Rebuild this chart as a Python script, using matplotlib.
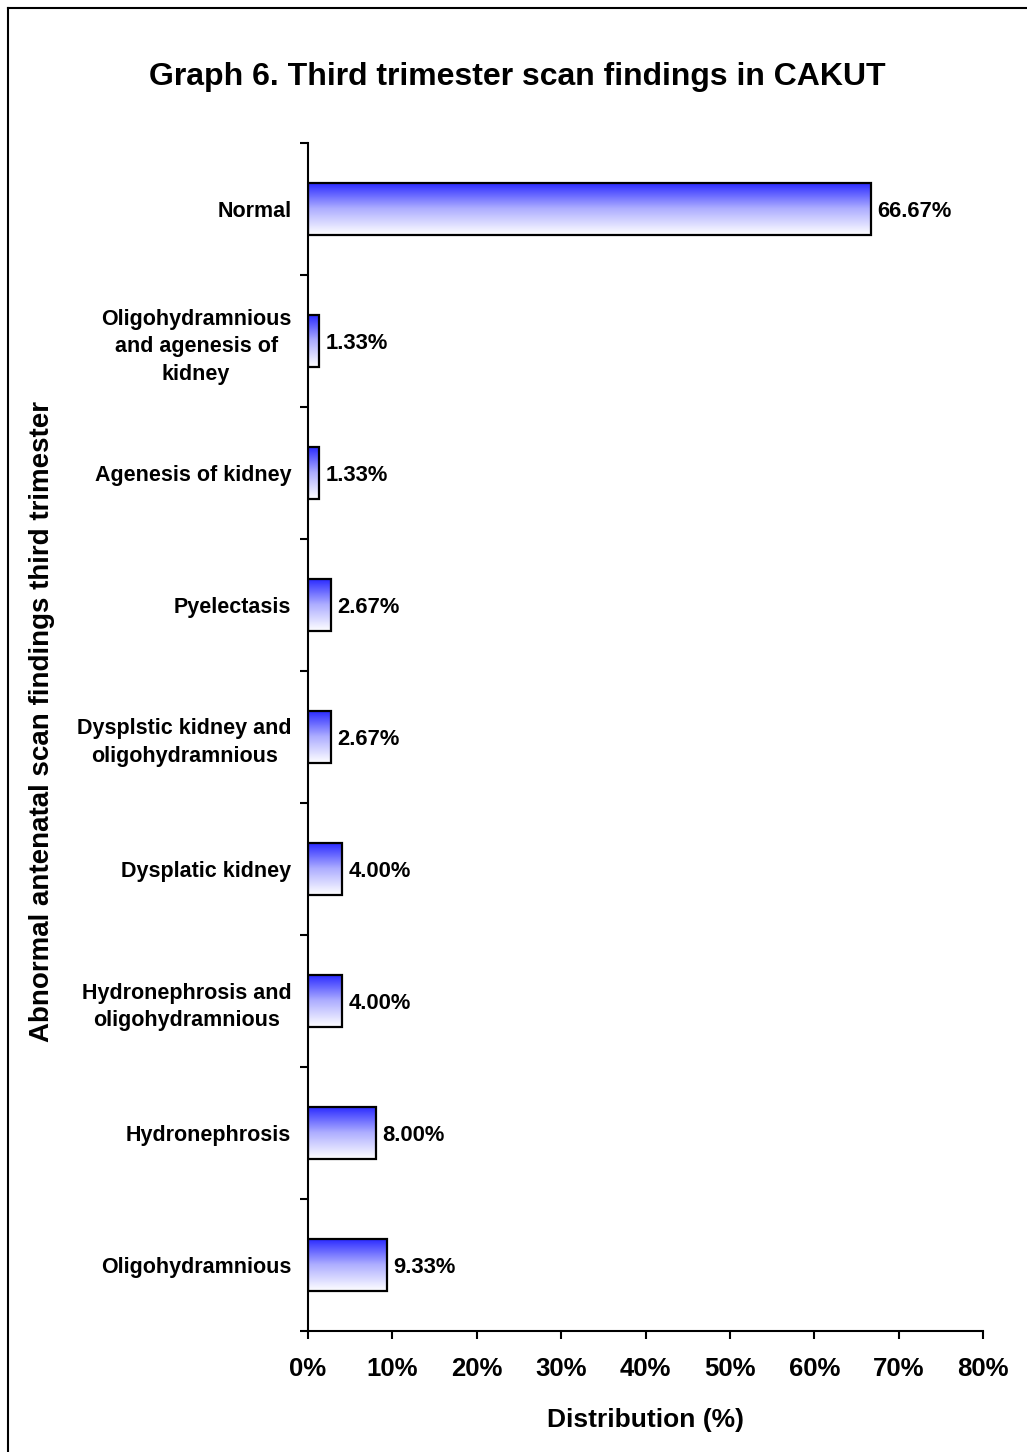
import numpy as np
import matplotlib
matplotlib.use("Agg")
import matplotlib.pyplot as plt
from matplotlib.colors import LinearSegmentedColormap
from matplotlib.lines import Line2D

categories = [
    "Normal",
    "Oligohydramnious\nand agenesis of\nkidney",
    "Agenesis of kidney",
    "Pyelectasis",
    "Dysplstic kidney and\noligohydramnious",
    "Dysplatic kidney",
    "Hydronephrosis and\noligohydramnious",
    "Hydronephrosis",
    "Oligohydramnious",
]
values = [66.67, 1.33, 1.33, 2.67, 2.67, 4.00, 4.00, 8.00, 9.33]
xticks = [0, 10, 20, 30, 40, 50, 60, 70, 80]
xtick_labels = ["0%", "10%", "20%", "30%", "40%", "50%", "60%", "70%", "80%"]

plt.rcParams['font.family'] = ['Liberation Sans', 'DejaVu Sans']
plt.rcParams['font.weight'] = 'bold'

W, H = 1027, 1452
fig = plt.figure(figsize=(W / 100, H / 100), dpi=100)
ax = fig.add_axes([308 / W, 121 / H, 675 / W, 1188 / H])

n = len(categories)
ypos = np.arange(n)
bar_h = 0.4
cmap = LinearSegmentedColormap.from_list(
    "g", [(0.0, (0.15, 0.15, 1.0)), (0.5, (0.68, 0.68, 1.0)), (1.0, (1.0, 1.0, 1.0))])
grad = np.linspace(0, 1, 256).reshape(-1, 1)

bars = ax.barh(ypos, values, height=bar_h, facecolor='none', edgecolor='black',
               linewidth=1.6, zorder=3)
for b, v, y in zip(bars, values, ypos):
    im = ax.imshow(grad, cmap=cmap, aspect='auto', origin='upper',
                   extent=[0, v, y + bar_h / 2, y - bar_h / 2], zorder=2,
                   interpolation='bilinear')
    im.set_clip_path(b)
    ax.text(v + 0.8, y, f"{v:.2f}%", va='center_baseline', ha='left',
            fontsize=15.8, fontweight='bold')

ax.set_xlim(0, 80)
ax.set_ylim(n - 0.5, -0.5)

ax.set_xticks(xticks)
ax.set_xticklabels(xtick_labels, fontsize=18.5, fontweight='bold')
ax.tick_params(axis='x', direction='out', length=6, width=1.5, pad=13)

ax.set_yticks(np.arange(-0.5, n, 1.0))
ax.set_yticklabels([])
ax.tick_params(axis='y', which='major', direction='out', length=6, width=1.5)
ax.set_yticks(ypos, minor=True)
ax.set_yticklabels(categories, minor=True, fontsize=15.5, fontweight='bold',
                   multialignment='center', linespacing=1.4)
ax.tick_params(axis='y', which='minor', length=0, pad=12)

for s in ['top', 'right']:
    ax.spines[s].set_visible(False)
for s in ['left', 'bottom']:
    ax.spines[s].set_linewidth(1.5)

ax.set_xlabel("Distribution (%)", fontsize=19, fontweight='bold', labelpad=19)

fig.text(42 / W, (H - 722) / H, "Abnormal antenatal scan findings third trimester",
         rotation=90, ha='center', va='center', fontsize=20, fontweight='bold')

fig.text(517 / W, (H - 77) / H, "Graph 6. Third trimester scan findings in CAKUT",
         ha='center', va='center', fontsize=23, fontweight='bold')

# frame around the figure
fig.add_artist(Line2D([8 / W, 8 / W], [0, (H - 8) / H], transform=fig.transFigure,
                      color='black', linewidth=1.5))
fig.add_artist(Line2D([8 / W, 1], [(H - 8) / H, (H - 8) / H], transform=fig.transFigure,
                      color='black', linewidth=1.5))

fig.savefig("out.png", dpi=100)
